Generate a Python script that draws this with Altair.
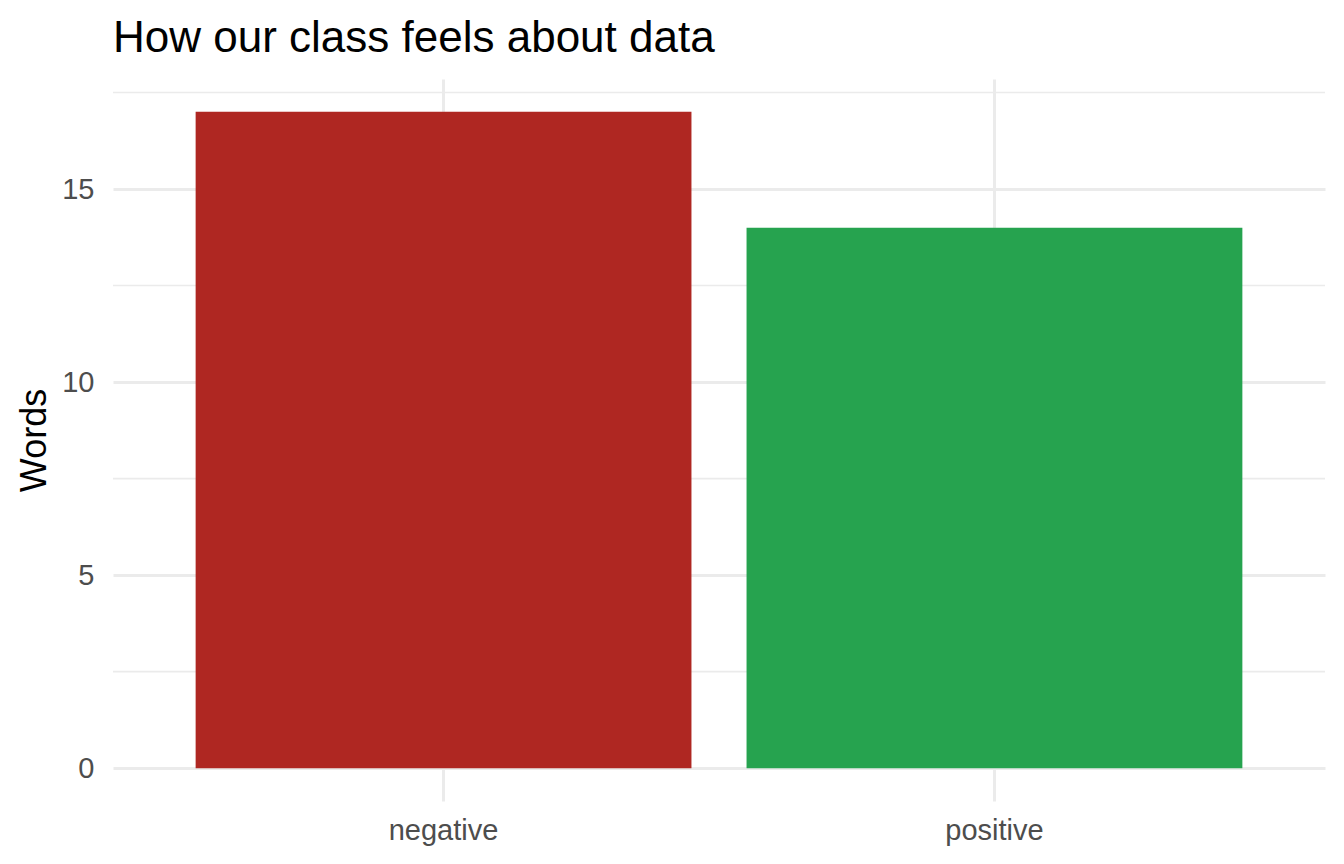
import altair as alt
import pandas as pd

sentiments = ["negative", "positive"]
words = [17, 14]
bar_colors = ["#AF2722", "#26A34F"]
major_ticks = [0, 5, 10, 15]
minor_ticks = [2.5, 7.5, 12.5, 17.5]

df = pd.DataFrame({"sentiment": sentiments, "words": words})
minor_df = pd.DataFrame({"v": minor_ticks})

FONT = "Liberation Sans"
W, H = 1212, 722

yscale = alt.Scale(domain=[-0.85, 17.85], nice=False, zero=False)

yaxis = alt.Axis(
    title="Words",
    values=major_ticks,
    grid=True,
    gridColor="#EBEBEB",
    gridWidth=3,
    domain=False,
    ticks=False,
    tickSize=0,
    labelPadding=19,
    labelFont=FONT,
    labelFontSize=29,
    labelColor="#4D4D4D",
    titleFont=FONT,
    titleFontSize=36,
    titleFontWeight="normal",
    titleColor="#000000",
    titleAngle=-90,
    titleBaseline="alphabetic",
    titleAlign="center",
    titleX=-68,
    titleY=H / 2,
)

minor = alt.Chart(minor_df).mark_rule(color="#EBEBEB", strokeWidth=1.6).encode(
    y=alt.Y("v:Q", scale=yscale, axis=yaxis, title="Words")
)

bars = alt.Chart(df).mark_bar().encode(
    x=alt.X(
        "sentiment:N",
        sort=sentiments,
        scale=alt.Scale(paddingInner=0.1, paddingOuter=0.15),
        axis=alt.Axis(
            title=None,
            grid=True,
            bandPosition=0.5,
            gridColor="#EBEBEB",
            gridWidth=3,
            domain=False,
            ticks=False,
            tickSize=0,
            labelAngle=0,
            labelPadding=15,
            labelFont=FONT,
            labelFontSize=29,
            labelColor="#4D4D4D",
        ),
    ),
    y=alt.Y("words:Q", scale=yscale, axis=yaxis, title="Words"),
    color=alt.Color(
        "sentiment:N",
        scale=alt.Scale(domain=sentiments, range=bar_colors),
        legend=None,
    ),
)

chart = (
    alt.layer(minor, bars)
    .properties(
        width=W,
        height=H,
        autosize=alt.AutoSizeParams(type="none"),
        padding={"left": 105, "top": 71, "right": 11, "bottom": 55},
        title=alt.TitleParams(
            "How our class feels about data",
            anchor="start",
            frame="group",
            font=FONT,
            fontSize=44,
            fontWeight="normal",
            color="#000000",
            offset=18,
        ),
    )
    .configure_view(stroke=None)
)

chart.save("out.html", embed_options={"renderer": "svg", "actions": False})
